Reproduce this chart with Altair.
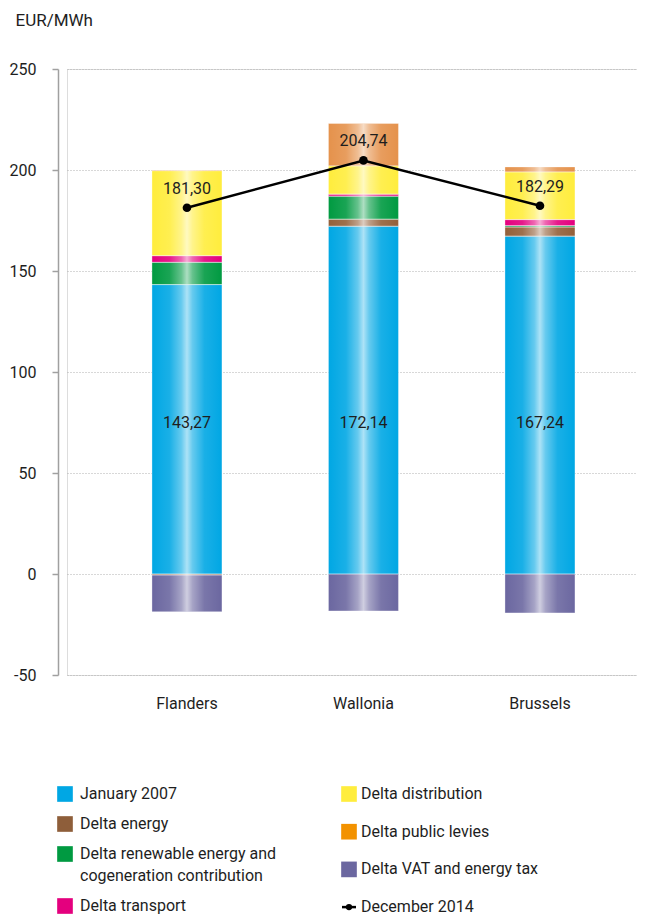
import altair as alt
import pandas as pd

# ---------------- data ----------------
regions = ["Flanders", "Wallonia", "Brussels"]
series = [
    "January  2007",
    "Delta energy",
    "Delta renewable energy and cogeneration contribution",
    "Delta transport",
    "Delta distribution",
    "Delta public levies",
    "Delta VAT and energy tax",
]
january_2007 = [143.27, 172.14, 167.24]
delta_energy = [-0.5, 3.5, 4.5]
delta_renewable = [11.0, 11.4, 0.7]
delta_transport = [3.3, 1.0, 3.0]
delta_distribution = [42.1, 14.0, 23.6]
delta_public_levies = [0.3, 21.0, 2.5]
delta_vat = [-18.2, -18.3, -19.25]
december_2014 = [181.30, 204.74, 182.29]
line_label = "December 2014"

y_ticks = [-50, 0, 50, 100, 150, 200, 250]

# ---------------- styles ----------------
bar_colors = ["#00a7e4", "#93603a", "#009a41", "#e4007e", "#ffed3d", "#e5924c", "#6b67a0"]
legend_colors = ["#00a7e4", "#8e5e3a", "#009a41", "#e4007e", "#ffed3d", "#f39200", "#6b67a0"]
FONT = "Roboto, Liberation Sans, sans-serif"
TXT = "#1e1e1e"
FS = 16

W, H = 570, 606

# ---------------- tables ----------------
values_by_series = [january_2007, delta_energy, delta_renewable, delta_transport,
                    delta_distribution, delta_public_levies, delta_vat]
rows = []
for si, (s, vals) in enumerate(zip(series, values_by_series)):
    for r, v in zip(regions, vals):
        rows.append({"region": r, "series": s, "idx": si, "value": v})
df = pd.DataFrame(rows)

df_tot = pd.DataFrame({
    "region": regions,
    "total": december_2014,
    "label": [f"{v:.2f}".replace(".", ",") for v in december_2014],
})
df_jan = pd.DataFrame({
    "region": regions,
    "label": [f"{v:.2f}".replace(".", ",") for v in january_2007],
})

x_enc = alt.X(
    "region:N",
    sort=regions,
    title=None,
    scale=alt.Scale(paddingInner=0.6034, paddingOuter=0.4164, align=0.578),
    axis=alt.Axis(labelAngle=0, domain=False, ticks=False, labelPadding=20,
                  labelFontSize=FS, labelColor=TXT, labelFont=FONT, grid=False),
)
y_scale = alt.Scale(domain=[-50, 250], nice=False, zero=False)
y_axis = alt.Axis(
    values=y_ticks, title="EUR/MWh", titleAngle=0, titleAlign="left",
    titleBaseline="middle", titleX=-43, titleY=-49, titleFontSize=17,
    titleFontWeight="normal", titleFont=FONT, titleColor=TXT,
    labelFont=FONT, labelFontSize=FS, labelColor=TXT, labelPadding=16,
    labelExpr="'' + datum.value",
    domainColor="#a0a0a0", domainWidth=1.5, tickColor="#a0a0a0", tickWidth=1.5,
    tickSize=6, offset=9, grid=True, gridColor="#b0b0b0", gridDash=[1, 2],
    gridWidth=1,
)

base = alt.Chart(df)
bars = base.mark_bar().encode(
    x=x_enc,
    y=alt.Y("sum(value):Q", scale=y_scale, axis=y_axis, stack="zero"),
    color=alt.Color("series:N", scale=alt.Scale(domain=series, range=bar_colors), legend=None),
    order=alt.Order("idx:Q", sort="ascending"),
)

gloss = alt.LinearGradient(
    gradient="linear", x1=0, x2=1, y1=0, y2=0,
    stops=[
        alt.GradientStop(color="rgba(255,255,255,0)", offset=0),
        alt.GradientStop(color="rgba(255,255,255,0.1)", offset=0.25),
        alt.GradientStop(color="rgba(255,255,255,0.4)", offset=0.42),
        alt.GradientStop(color="rgba(255,255,255,0.68)", offset=0.5),
        alt.GradientStop(color="rgba(255,255,255,0.4)", offset=0.58),
        alt.GradientStop(color="rgba(255,255,255,0.1)", offset=0.75),
        alt.GradientStop(color="rgba(255,255,255,0)", offset=1),
    ],
)
shine = base.mark_bar(fill=gloss, stroke="#ffffff", strokeOpacity=0.35, strokeWidth=1).encode(
    x=alt.X("region:N", sort=regions),
    y=alt.Y("sum(value):Q", stack="zero"),
    detail="series:N",
    order=alt.Order("idx:Q", sort="ascending"),
)

jan_text = alt.Chart(df_jan).mark_text(font=FONT, fontSize=FS, color=TXT, baseline="middle").encode(
    x=alt.X("region:N", sort=regions),
    y=alt.datum(75),
    text="label:N",
)

line = alt.Chart(df_tot).mark_line(color="#000000", strokeWidth=2.5).encode(
    x=alt.X("region:N", sort=regions),
    y=alt.Y("total:Q"),
)
pts = alt.Chart(df_tot).mark_circle(color="#000000", size=75, opacity=1).encode(
    x=alt.X("region:N", sort=regions),
    y=alt.Y("total:Q"),
)
tot_text = alt.Chart(df_tot).mark_text(font=FONT, fontSize=FS, color=TXT, baseline="middle", dy=-19).encode(
    x=alt.X("region:N", sort=regions),
    y=alt.Y("total:Q"),
    text="label:N",
)

main = alt.layer(bars, shine, jan_text, line, pts, tot_text)

# ---------------- manual legend (layout computed here) ----------------
legend_labels = [
    "January  2007",
    "Delta energy",
    "Delta renewable energy and\ncogeneration contribution",
    "Delta transport",
    "Delta distribution",
    "Delta public levies",
    "Delta VAT and energy tax",
]
col_of = [0, 0, 0, 0, 1, 1, 1]
leg_rows = []
y1 = 725.0
y2 = 725.0
for i, lab in enumerate(legend_labels):
    if col_of[i] == 0:
        yy = y1
        y1 += 30 + 22 * lab.count("\n")
        sx, tx = -2, 13
    else:
        yy = y2
        y2 += 37.7
        sx, tx = 282, 294
    leg_rows.append({"sx": sx, "tx": tx, "py": yy, "label": lab, "color": legend_colors[i]})
df_leg = pd.DataFrame(leg_rows)
df_leg_line = pd.DataFrame({"label": [line_label], "x1": [275], "x2": [289], "xc": [282], "tx": [294], "py": [y2]})

leg_sq = alt.Chart(df_leg).mark_square(size=245, opacity=1).encode(
    x=alt.X("sx:Q", scale=None, axis=None),
    y=alt.Y("py:Q", scale=None, axis=None),
    color=alt.Color("color:N", scale=None, legend=None),
)
leg_tx = alt.Chart(df_leg).mark_text(font=FONT, fontSize=FS, color=TXT, align="left",
                                      baseline="middle", lineBreak="\n", lineHeight=22, dy=0).encode(
    x=alt.X("tx:Q", scale=None, axis=None),
    y=alt.Y("py:Q", scale=None, axis=None),
    text="label:N",
)
leg_rule = alt.Chart(df_leg_line).mark_rule(color="#000000", strokeWidth=2.5).encode(
    x=alt.X("x1:Q", scale=None, axis=None),
    x2="x2:Q",
    y=alt.Y("py:Q", scale=None, axis=None),
)
leg_dot = alt.Chart(df_leg_line).mark_circle(color="#000000", size=40, opacity=1).encode(
    x=alt.X("xc:Q", scale=None, axis=None),
    y=alt.Y("py:Q", scale=None, axis=None),
)
leg_line_tx = alt.Chart(df_leg_line).mark_text(font=FONT, fontSize=FS, color=TXT, align="left",
                                               baseline="middle").encode(
    x=alt.X("tx:Q", scale=None, axis=None),
    y=alt.Y("py:Q", scale=None, axis=None),
    text="label:N",
)
legend = alt.layer(leg_sq, leg_tx, leg_rule, leg_dot, leg_line_tx)

chart = alt.layer(main, legend).resolve_scale(
    x="independent", y="independent", color="independent"
).properties(
    width=W, height=H,
    autosize=alt.AutoSizeParams(type="none"),
    padding={"left": 59, "top": 61, "right": 0, "bottom": 240},
).configure_view(stroke=None).configure(font=FONT)

chart.save("out.html", embed_options={"renderer": "svg", "actions": False})
